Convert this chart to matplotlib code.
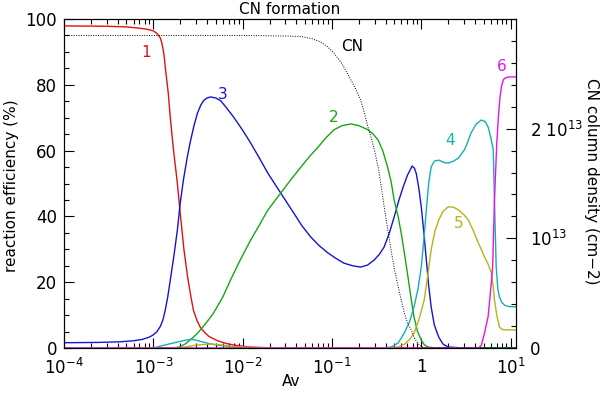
import matplotlib
matplotlib.use("Agg")
import matplotlib.pyplot as plt
from matplotlib.ticker import FixedLocator, MultipleLocator, LogLocator, NullFormatter

###### DATA ######

# reaction efficiency (%) vs Av
av_1 = [1e-4, 3e-4, 5e-4, 7e-4, 8.5e-4, 1.0e-3, 1.1e-3, 1.2e-3, 1.25e-3, 1.29e-3, 1.33e-3,
        1.36e-3, 1.42e-3, 1.47e-3, 1.55e-3, 1.67e-3, 1.86e-3, 2.0e-3, 2.2e-3, 2.41e-3, 2.6e-3,
        2.81e-3, 3.1e-3, 3.37e-3, 3.8e-3, 4.2e-3, 5.24e-3, 6.5e-3, 7.9e-3, 1.2e-2, 2e-2, 11.5]
eff_1 = [97.9, 97.8, 97.6, 97.2, 96.9, 96.4, 95.6, 94.2, 92.5, 90.6, 88.2,
         85.4, 81, 77.5, 70, 61, 50, 41, 30, 22, 16.5,
         11.5, 8.2, 6.2, 4.6, 3.5, 2.2, 1.4, 0.9, 0.3, 0.05, 0]

av_3 = [1e-4, 2.5e-4, 4.3e-4, 6e-4, 7.5e-4, 9e-4, 1.0e-3, 1.1e-3, 1.2e-3, 1.28e-3, 1.36e-3,
        1.45e-3, 1.55e-3, 1.7e-3, 1.86e-3, 2.0e-3, 2.17e-3, 2.4e-3, 2.61e-3, 2.85e-3, 3.12e-3,
        3.4e-3, 3.65e-3, 4.0e-3, 4.37e-3, 5.0e-3, 5.66e-3, 6.6e-3, 7.92e-3, 1.0e-2, 1.23e-2,
        1.55e-2, 1.91e-2, 2.67e-2, 3.74e-2, 4.6e-2, 5.81e-2, 7.2e-2, 9.02e-2, 0.11, 0.136,
        0.17, 0.21, 0.25, 0.296, 0.34, 0.384, 0.44, 0.497, 0.56, 0.628, 0.7, 0.79, 0.84,
        0.88, 0.94, 1.0, 1.07, 1.14, 1.21, 1.29, 1.4, 1.57, 1.75, 2.0, 2.78, 11.5]
eff_3 = [1.6, 1.7, 1.9, 2.2, 2.6, 3.3, 4.0, 5.0, 6.6, 8.5, 11.5,
         15.5, 20.7, 28, 35.9, 44, 51, 58, 63, 67.5, 71.4,
         73.8, 75.2, 76.0, 76.3, 76.0, 75.2, 73.0, 70.2, 66.2, 62.3,
         57.6, 53.2, 47.1, 41, 37.2, 33.7, 31.1, 28.9, 27.3, 25.8,
         25.0, 24.6, 25.2, 26.7, 28.5, 30.7, 35, 39.8, 44.8, 49, 52.5, 55.3, 54.6,
         53, 48.5, 42.9, 35, 26.7, 19, 12.5, 7, 3.3, 1.2, 0.3, 0.05, 0]

av_2 = [1e-4, 1.7e-3, 2.0e-3, 2.3e-3, 2.6e-3, 3.0e-3, 3.37e-3, 4.0e-3, 4.72e-3, 6e-3, 7.33e-3,
        9.5e-3, 1.23e-2, 1.55e-2, 1.91e-2, 2.67e-2, 3.5e-2, 4.49e-2, 5.6e-2, 6.97e-2, 8.5e-2,
        0.105, 0.13, 0.163, 0.2, 0.254, 0.29, 0.329, 0.37, 0.42, 0.46, 0.497, 0.55, 0.596,
        0.65, 0.71, 0.77, 0.83, 0.91, 1.0, 1.08, 1.19, 1.4, 11.5]
eff_2 = [0, 0, 0.4, 1.3, 2.5, 4.0, 5.5, 8, 10.6, 15.5, 20.7,
         27, 32.8, 37.5, 41.9, 47.1, 51.3, 55, 58.2, 61, 63.8,
         66.3, 67.6, 68.1, 67.6, 66.3, 65, 63.2, 60, 55, 50.5, 45, 40, 35,
         28.5, 21.6, 15, 9.4, 5, 2.4, 1.0, 0.3, 0.05, 0]

av_4 = [1e-4, 1.0e-3, 1.1e-3, 1.3e-3, 1.6e-3, 2.0e-3, 2.3e-3, 2.6e-3, 3.0e-3, 3.37e-3, 4.0e-3,
        4.9e-3, 6e-3, 7.3e-3, 1.2e-2, 0.2, 0.4, 0.46, 0.55, 0.644, 0.74, 0.83, 0.92, 1.0,
        1.07, 1.14, 1.21, 1.29, 1.4, 1.57, 1.8, 2.0, 2.3, 2.6, 3.04, 3.3, 3.6, 4.1, 4.7,
        5.2, 5.6, 6.0, 6.4, 6.6, 6.9, 7.2, 7.5, 8.0, 8.6, 9.5, 11.5]
eff_4 = [0, 0, 0.3, 0.8, 1.4, 2.0, 2.4, 2.6, 2.4, 2.0, 1.5,
         1.0, 0.7, 0.4, 0.1, 0, 0.05, 0.3, 1.5, 4.5, 8, 12.5, 18, 24.6,
         33, 42, 50, 55, 56.8, 57.1, 56.4, 56.2, 56.8, 57.7, 60.2, 62.5, 65.3, 68, 69.3,
         68.8, 67.2, 64, 60.2, 45, 24.6, 18, 15.5, 13.8, 13, 12.6, 12.5]

av_5 = [1e-4, 1.5e-3, 2.0e-3, 2.4e-3, 2.9e-3, 3.4e-3, 4.4e-3, 6e-3, 7.9e-3, 1.5e-2, 0.3,
        0.45, 0.55, 0.65, 0.74, 0.83, 0.95, 1.08, 1.18, 1.29, 1.42, 1.57, 1.75, 2.0, 2.3,
        2.6, 3.0, 3.37, 3.8, 4.37, 5.1, 5.6, 6.1, 6.4, 6.6, 7.0, 7.5, 8.0, 8.6, 11.5]
eff_5 = [0, 0, 0.1, 0.4, 0.8, 1.0, 1.2, 0.9, 0.4, 0.1, 0,
         0.05, 0.3, 1.2, 2.6, 4.5, 9, 14.6, 22, 29.8, 35.5, 38.9, 41.5, 42.9, 42.8,
         42, 40.5, 38.9, 35.8, 31.9, 27.7, 25.5, 22.8, 18.5, 14.6, 10, 6.4, 5.7, 5.5, 5.5]

av_6 = [1e-4, 4.37, 4.7, 5.1, 5.6, 6.0, 6.3, 6.6, 7.0, 7.3, 7.6, 7.9, 8.3, 8.6, 9.5, 11.5]
eff_6 = [0, 0, 0.8, 4.5, 9.5, 18, 24.6, 45, 62, 70.2, 76, 79.5, 81.5, 82, 82.4, 82.4]

# CN column density (1e13 cm-2)
av_cn = [1e-4, 1e-2, 3e-2, 4.5e-2, 6e-2, 7.5e-2, 9e-2, 0.105, 0.13, 0.163, 0.19, 0.21,
         0.23, 0.254, 0.274, 0.3, 0.329, 0.355, 0.384, 0.42, 0.46, 0.5, 0.552, 0.6,
         0.644, 0.7, 0.772, 0.84, 0.91, 1.0, 1.08, 11.5]
col_cn = [2.85, 2.85, 2.845, 2.84, 2.82, 2.79, 2.745, 2.69, 2.59, 2.445, 2.34, 2.26,
          2.15, 2.01, 1.92, 1.8, 1.65, 1.48, 1.29, 1.09, 0.89, 0.72, 0.555, 0.43,
          0.32, 0.23, 0.165, 0.09, 0.045, 0.015, 0, 0]

x_ticks = [1e-4, 1e-3, 1e-2, 1e-1, 1, 10]
x_tick_labels = [r'$10^{-4}$', r'$10^{-3}$', r'$10^{-2}$', r'$10^{-1}$', '1', r'$10^{1}$']
cn_ticks = [0, 1e13, 2e13]
cn_tick_labels = ['0', r'$10^{13}$', r'$2\ 10^{13}$']

###### PLOT ######

plt.rcParams['font.family'] = ['DejaVu Sans']
plt.rcParams['mathtext.default'] = 'regular'

fig = plt.figure(figsize=(6, 3.93), dpi=100)
ax = fig.add_axes([64 / 600, 45 / 393, 452 / 600, 329 / 393])

series = [
    (av_1, eff_1, '#e01010'),
    (av_3, eff_3, '#1414d2'),
    (av_2, eff_2, '#14a814'),
    (av_4, eff_4, '#14b0b0'),
    (av_5, eff_5, '#b4b414'),
    (av_6, eff_6, '#e614e6'),
]
for x, y, c in series:
    ax.plot(x, y, color=c, lw=1.0)

ax.set_xscale('log')
ax.set_xlim(1e-4, 11.5)
ax.set_ylim(0, 100)
ax.xaxis.set_major_locator(FixedLocator(x_ticks))
ax.xaxis.set_minor_locator(LogLocator(base=10, subs=range(2, 10)))
ax.xaxis.set_minor_formatter(NullFormatter())
ax.set_xticklabels(x_tick_labels)
ax.yaxis.set_major_locator(MultipleLocator(20))
ax.yaxis.set_minor_locator(MultipleLocator(5))
ax.tick_params(which='both', direction='in', top=True, right=False, width=0.8, labelsize=12)
ax.tick_params(which='major', length=7)
ax.tick_params(which='minor', length=3.5)
ax.tick_params(axis='x', pad=7)
ax.tick_params(axis='y', pad=5)

# curve labels
ax.text(8.3e-4, 89.7, '1', color='#e01010', fontsize=11, ha='center', va='center')
ax.text(5.96e-3, 77.2, '3', color='#1414d2', fontsize=11, ha='center', va='center')
ax.text(0.105, 70.2, '2', color='#14a814', fontsize=11, ha='center', va='center')
ax.text(0.17, 91.5, 'CN', color='black', fontsize=11, ha='center', va='center')
ax.text(2.1, 63, '4', color='#14b0b0', fontsize=11, ha='center', va='center')
ax.text(2.6, 37.7, '5', color='#b4b414', fontsize=11, ha='center', va='center')
ax.text(7.9, 85.7, '6', color='#e614e6', fontsize=11, ha='center', va='center')

ax2 = ax.twinx()
ax2.plot(av_cn, [v * 1e13 for v in col_cn], color='black', lw=0.7, ls=(0, (1, 1.5)))
ax2.set_ylim(0, 3e13)
ax2.yaxis.set_major_locator(FixedLocator(cn_ticks))
ax2.yaxis.set_minor_locator(MultipleLocator(2e12))
ax2.set_yticklabels(cn_tick_labels)
ax2.tick_params(which='both', direction='in', width=0.8, labelsize=12, pad=10)
ax2.tick_params(which='major', length=7)
ax2.tick_params(which='minor', length=3.5)

for a in (ax, ax2):
    for s in a.spines.values():
        s.set_linewidth(0.8)

fig.text(290 / 600, 1 - 9 / 393, 'CN formation', fontsize=11, ha='center', va='center')
fig.text(291 / 600, 1 - 382 / 393, 'Av', fontsize=11, ha='center', va='center')
fig.text(12 / 600, 1 - 186 / 393, 'reaction efficiency (%)', fontsize=11,
         rotation=90, ha='center', va='center')
fig.text(591 / 600, 1 - 181 / 393, 'CN column density (cm\u22122)', fontsize=11,
         rotation=270, ha='center', va='center')

fig.savefig('out.png', dpi=100)
